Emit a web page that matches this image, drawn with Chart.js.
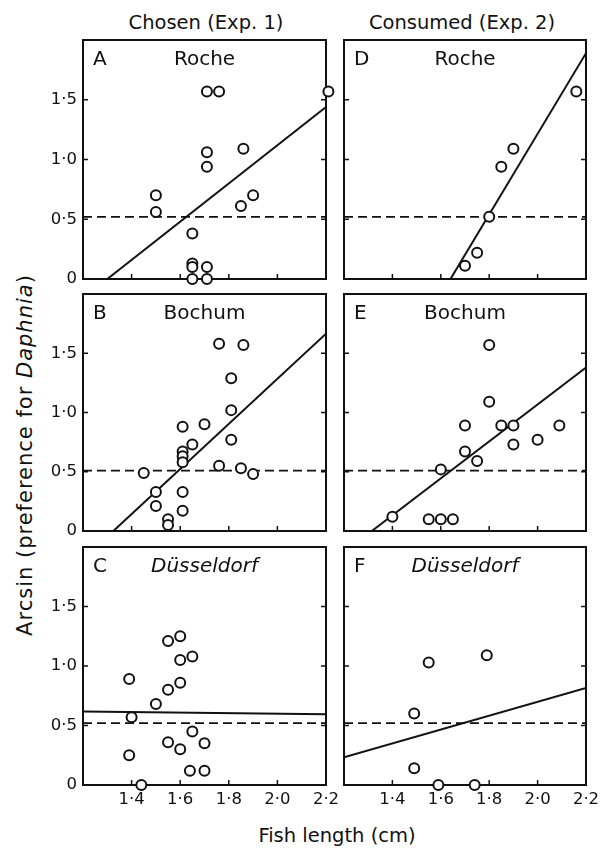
<!DOCTYPE html>
<html>
<head>
<meta charset="utf-8">
<script src="https://cdn.jsdelivr.net/npm/chart.js@4.4.1/dist/chart.umd.min.js"></script>
<style>
  body { margin:0; background:#fff; width:603px; height:849px; position:relative; overflow:hidden;
         font-family:"DejaVu Sans", sans-serif; color:#111; }
  canvas { position:absolute; }
  .txt { position:absolute; white-space:nowrap; font-size:19.5px; transform:translate(-50%,-50%); }
  #ytitle { transform:translate(-50%,-50%) rotate(-90deg); font-size:21px; letter-spacing:1px; }
</style>
</head>
<body>
<div class="txt" style="left:206px;top:22px">Chosen (Exp. 1)</div>
<div class="txt" style="left:462px;top:22px">Consumed (Exp. 2)</div>
<div class="txt" id="ytitle" style="left:25px;top:455px">Arcsin (preference for <i>Daphnia</i>)</div>
<div class="txt" style="left:337px;top:835px">Fish length (cm)</div>

<canvas id="panelA"></canvas>
<canvas id="panelB"></canvas>
<canvas id="panelC"></canvas>
<canvas id="panelD"></canvas>
<canvas id="panelE"></canvas>
<canvas id="panelF"></canvas>

<script>
// axis ticks
const xTicks = [1.4, 1.6, 1.8, 2.0, 2.2];
const yTicks = [0, 0.5, 1.0, 1.5];
const sites = ['Roche', 'Bochum', 'Düsseldorf'];
const refLevels = [0.52, 0.51, 0.52];   // dashed line, per row

// A - Roche, chosen
const rocheChosenX = [1.71, 1.76, 1.71, 1.71, 1.86, 1.50, 1.50, 1.90, 1.85, 1.65, 1.65, 1.65, 1.71, 1.65, 1.71, 2.21];
const rocheChosenY = [1.57, 1.57, 1.06, 0.94, 1.09, 0.70, 0.56, 0.70, 0.61, 0.38, 0.13, 0.10, 0.10, 0.00, 0.00, 1.57];
const rocheChosenFitX = [1.30, 2.2];
const rocheChosenFitY = [0.00, 1.44];

// B - Bochum, chosen
const bochumChosenX = [1.76, 1.86, 1.81, 1.81, 1.61, 1.70, 1.65, 1.81, 1.61, 1.61, 1.61, 1.45, 1.76, 1.85, 1.90, 1.50, 1.50, 1.61, 1.61, 1.55, 1.55];
const bochumChosenY = [1.58, 1.57, 1.29, 1.02, 0.88, 0.90, 0.73, 0.77, 0.67, 0.63, 0.58, 0.49, 0.55, 0.53, 0.48, 0.33, 0.21, 0.33, 0.17, 0.10, 0.05];
const bochumChosenFitX = [1.325, 2.2];
const bochumChosenFitY = [0.00, 1.665];

// C - Düsseldorf, chosen
const dussChosenX = [1.39, 1.55, 1.60, 1.60, 1.65, 1.60, 1.55, 1.50, 1.40, 1.65, 1.55, 1.60, 1.70, 1.39, 1.64, 1.70, 1.44];
const dussChosenY = [0.89, 1.21, 1.25, 1.05, 1.08, 0.86, 0.80, 0.68, 0.57, 0.45, 0.36, 0.30, 0.35, 0.25, 0.12, 0.12, 0.00];
const dussChosenFitX = [1.2, 2.2];
const dussChosenFitY = [0.617, 0.595];

// D - Roche, consumed
const rocheConsumedX = [1.70, 1.75, 1.80, 1.85, 1.90, 2.16];
const rocheConsumedY = [0.11, 0.22, 0.52, 0.94, 1.09, 1.57];
const rocheConsumedFitX = [1.64, 2.2];
const rocheConsumedFitY = [0.00, 1.89];

// E - Bochum, consumed
const bochumConsumedX = [1.80, 1.80, 1.70, 1.85, 1.90, 1.90, 2.00, 2.09, 1.70, 1.75, 1.60, 1.40, 1.55, 1.60, 1.65];
const bochumConsumedY = [1.57, 1.09, 0.89, 0.89, 0.89, 0.73, 0.77, 0.89, 0.67, 0.59, 0.52, 0.12, 0.10, 0.10, 0.10];
const bochumConsumedFitX = [1.315, 2.2];
const bochumConsumedFitY = [0.00, 1.38];

// F - Düsseldorf, consumed
const dussConsumedX = [1.55, 1.79, 1.49, 1.49, 1.59, 1.74];
const dussConsumedY = [1.03, 1.09, 0.60, 0.14, 0.00, 0.00];
const dussConsumedFitX = [1.2, 2.2];
const dussConsumedFitY = [0.233, 0.815];

const fmt = v => v === 0 ? '0' : v.toFixed(1).replace('.', '·');
const ink = '#111';

// box with inward tick marks
const framePlugin = {
  id: 'frame',
  beforeDatasetsDraw(chart) {
    const { ctx, chartArea: a, scales: { x, y } } = chart;
    ctx.save();
    ctx.strokeStyle = ink;
    ctx.lineWidth = 2;
    ctx.strokeRect(a.left, a.top, a.right - a.left, a.bottom - a.top);
    ctx.lineWidth = 1.5;
    ctx.beginPath();
    xTicks.forEach(v => {
      const px = x.getPixelForValue(v);
      if (px < a.right - 2) { ctx.moveTo(px, a.bottom); ctx.lineTo(px, a.bottom - 5); }
    });
    yTicks.forEach(v => {
      const py = y.getPixelForValue(v);
      if (py < a.bottom - 2) {
        ctx.moveTo(a.left, py); ctx.lineTo(a.left + 5, py);
        ctx.moveTo(a.right, py); ctx.lineTo(a.right - 5, py);
      }
    });
    ctx.stroke();
    ctx.restore();
  }
};

const labelPlugin = {
  id: 'panelLabel',
  afterDatasetsDraw(chart, args, opts) {
    const { ctx, chartArea: a } = chart;
    ctx.save();
    ctx.fillStyle = ink;
    ctx.textBaseline = 'alphabetic';
    ctx.font = '20px "DejaVu Sans"';
    ctx.textAlign = 'left';
    ctx.fillText(opts.letter, a.left + 10, a.top + 25);
    ctx.font = (opts.italic ? 'italic ' : '') + '20px "DejaVu Sans"';
    ctx.textAlign = 'center';
    ctx.fillText(opts.site, (a.left + a.right) / 2, a.top + 25);
    ctx.restore();
  }
};

// keep every panel's plot box exactly where the picture has it
function fixSize(s, w, h) {
  if (w !== null) s.width = w;
  if (h !== null) s.height = h;
  s.paddingTop = 0; s.paddingBottom = 0;
  s.paddingLeft = 0; s.paddingRight = 0;
}

function makePanel(id, box, letter, site, italic, xs, ys, fitX, fitY, ref, showX, showY) {
  const yW = showY ? 50 : 10;
  const padT = 10, padR = 16;
  const xH = showX ? 34 : 10;
  const canvas = document.getElementById(id);
  canvas.width = yW + (box.right - box.left) + padR;
  canvas.height = padT + (box.bottom - box.top) + xH;
  canvas.style.left = (box.left - yW) + 'px';
  canvas.style.top = (box.top - padT) + 'px';

  const tickFont = { family: 'DejaVu Sans', size: 16.5 };

  new Chart(canvas, {
    type: 'scatter',
    data: {
      datasets: [
        {
          data: xs.map((x, i) => ({ x: x, y: ys[i] })),
          pointRadius: 5,
          pointBorderWidth: 2,
          pointBackgroundColor: '#fff',
          pointBorderColor: ink,
          clip: false
        },
        {
          type: 'line',
          data: fitX.map((x, i) => ({ x: x, y: fitY[i] })),
          borderColor: ink,
          borderWidth: 2,
          pointRadius: 0
        },
        {
          type: 'line',
          data: [{ x: 1.2, y: ref }, { x: 2.2, y: ref }],
          borderColor: ink,
          borderWidth: 1.8,
          borderDash: [9, 5],
          pointRadius: 0
        }
      ]
    },
    options: {
      responsive: false,
      animation: false,
      layout: { padding: { top: padT, right: padR, left: 0, bottom: 0 } },
      plugins: {
        legend: { display: false },
        tooltip: { enabled: false },
        panelLabel: { letter: letter, site: site, italic: italic }
      },
      scales: {
        x: {
          type: 'linear', min: 1.2, max: 2.2,
          afterBuildTicks: s => { s.ticks = xTicks.map(v => ({ value: v })); },
          afterFit: s => fixSize(s, null, xH),
          grid: { display: false, drawTicks: false },
          border: { display: false },
          ticks: { display: showX, padding: 5, color: ink, font: tickFont, maxRotation: 0, callback: fmt }
        },
        y: {
          type: 'linear', min: 0, max: 2.0,
          afterBuildTicks: s => { s.ticks = yTicks.map(v => ({ value: v })); },
          afterFit: s => fixSize(s, yW, null),
          grid: { display: false, drawTicks: false },
          border: { display: false },
          ticks: { display: showY, padding: 6, color: ink, font: tickFont, callback: fmt }
        }
      }
    },
    plugins: [framePlugin, labelPlugin]
  });
}

const leftCol = { left: 83, right: 326 };
const rightCol = { left: 344, right: 586 };
const rows = [{ top: 40, bottom: 279 }, { top: 294, bottom: 531 }, { top: 547, bottom: 785 }];

makePanel('panelA', { ...leftCol, ...rows[0] }, 'A', sites[0], false,
  rocheChosenX, rocheChosenY, rocheChosenFitX, rocheChosenFitY, refLevels[0], false, true);
makePanel('panelB', { ...leftCol, ...rows[1] }, 'B', sites[1], false,
  bochumChosenX, bochumChosenY, bochumChosenFitX, bochumChosenFitY, refLevels[1], false, true);
makePanel('panelC', { ...leftCol, ...rows[2] }, 'C', sites[2], true,
  dussChosenX, dussChosenY, dussChosenFitX, dussChosenFitY, refLevels[2], true, true);
makePanel('panelD', { ...rightCol, ...rows[0] }, 'D', sites[0], false,
  rocheConsumedX, rocheConsumedY, rocheConsumedFitX, rocheConsumedFitY, refLevels[0], false, false);
makePanel('panelE', { ...rightCol, ...rows[1] }, 'E', sites[1], false,
  bochumConsumedX, bochumConsumedY, bochumConsumedFitX, bochumConsumedFitY, refLevels[1], false, false);
makePanel('panelF', { ...rightCol, ...rows[2] }, 'F', sites[2], true,
  dussConsumedX, dussConsumedY, dussConsumedFitX, dussConsumedFitY, refLevels[2], true, false);
</script>
</body>
</html>
